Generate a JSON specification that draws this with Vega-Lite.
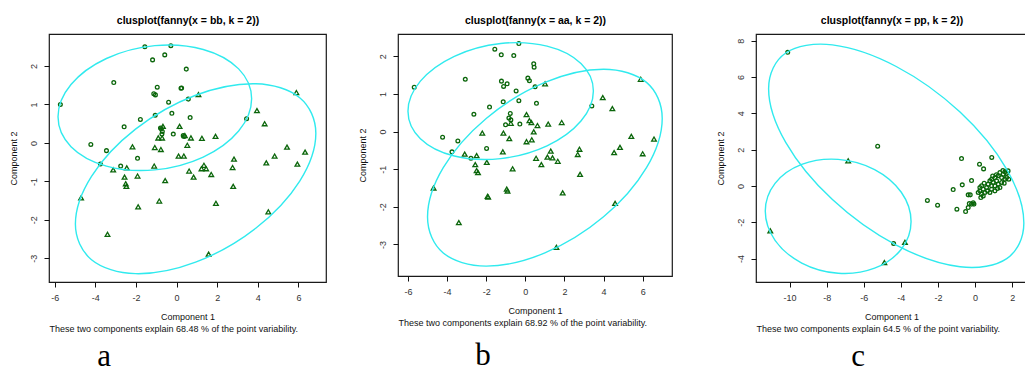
{
  "$schema": "https://vega.github.io/schema/vega-lite/v6.json",
  "padding": {"left": 8, "top": 14, "right": 0, "bottom": 0},
  "background": "white",
  "spacing": 30,
  "config": {
    "view": {"stroke": "#1a1a1a", "strokeWidth": 1.2},
    "axis": {
      "grid": false,
      "domain": false,
      "tickColor": "#111",
      "tickSize": 5,
      "tickWidth": 1,
      "labelFont": "Liberation Sans",
      "labelFontSize": 9,
      "labelColor": "#333",
      "labelPadding": 6,
      "titleFont": "Liberation Sans",
      "titleFontSize": 9,
      "titleFontWeight": "normal",
      "titleColor": "#111"
    },
    "point": {"filled": false, "opacity": 1, "strokeWidth": 1.3, "color": "#0b660b"},
    "line": {"stroke": "#30eaee", "strokeWidth": 1.4, "interpolate": "cardinal-closed"}
  },
  "datasets": {
    "pa": [
      {"x": -5.72, "y": 1.0, "cl": 1}, {"x": -1.56, "y": 2.5, "cl": 1}, {"x": -0.28, "y": 2.53, "cl": 1},
      {"x": -0.58, "y": 2.29, "cl": 1}, {"x": -1.18, "y": 2.16, "cl": 1}, {"x": 0.48, "y": 1.92, "cl": 1},
      {"x": -3.09, "y": 1.57, "cl": 1}, {"x": -0.95, "y": 1.45, "cl": 1}, {"x": 0.25, "y": 1.43, "cl": 1},
      {"x": 0.22, "y": 1.42, "cl": 1}, {"x": -1.12, "y": 1.28, "cl": 1}, {"x": -1.04, "y": 1.25, "cl": 1},
      {"x": 0.58, "y": 1.14, "cl": 1}, {"x": -0.39, "y": 1.06, "cl": 1}, {"x": -1.05, "y": 0.72, "cl": 1},
      {"x": -0.23, "y": 0.77, "cl": 1}, {"x": 0.67, "y": 0.66, "cl": 1}, {"x": -1.78, "y": 0.61, "cl": 1},
      {"x": -2.58, "y": 0.42, "cl": 1}, {"x": 3.45, "y": 0.63, "cl": 1}, {"x": -0.79, "y": 0.39, "cl": 1},
      {"x": -0.75, "y": 0.37, "cl": 1}, {"x": -0.72, "y": 0.23, "cl": 1}, {"x": -0.7, "y": 0.3, "cl": 1},
      {"x": -0.16, "y": 0.23, "cl": 1}, {"x": 0.33, "y": 0.19, "cl": 1}, {"x": 0.38, "y": 0.17, "cl": 1},
      {"x": -4.22, "y": -0.04, "cl": 1}, {"x": -3.45, "y": -0.2, "cl": 1}, {"x": -1.92, "y": -0.4, "cl": 1},
      {"x": -3.75, "y": -0.55, "cl": 1}, {"x": -2.75, "y": -0.6, "cl": 1},
      {"x": 1.08, "y": 1.26, "cl": 2}, {"x": 5.9, "y": 1.31, "cl": 2}, {"x": 3.96, "y": 0.84, "cl": 2},
      {"x": 4.34, "y": 0.5, "cl": 2}, {"x": -0.67, "y": 0.43, "cl": 2}, {"x": 0.15, "y": 0.43, "cl": 2},
      {"x": 0.41, "y": 0.19, "cl": 2}, {"x": 0.71, "y": 0.13, "cl": 2}, {"x": 1.25, "y": 0.12, "cl": 2},
      {"x": 1.92, "y": 0.17, "cl": 2}, {"x": -0.9, "y": 0.13, "cl": 2}, {"x": -0.71, "y": 0.13, "cl": 2},
      {"x": -2.17, "y": -0.1, "cl": 2}, {"x": -1.07, "y": -0.12, "cl": 2}, {"x": -0.77, "y": -0.17, "cl": 2},
      {"x": 0.53, "y": -0.06, "cl": 2}, {"x": 0.1, "y": -0.34, "cl": 2}, {"x": 0.36, "y": -0.34, "cl": 2},
      {"x": 5.44, "y": -0.11, "cl": 2}, {"x": 6.33, "y": -0.24, "cl": 2}, {"x": 4.83, "y": -0.34, "cl": 2},
      {"x": 2.83, "y": -0.42, "cl": 2}, {"x": 4.42, "y": -0.52, "cl": 2}, {"x": 5.95, "y": -0.55, "cl": 2},
      {"x": 1.35, "y": -0.58, "cl": 2}, {"x": 1.23, "y": -0.67, "cl": 2}, {"x": 1.46, "y": -0.67, "cl": 2},
      {"x": 2.76, "y": -0.64, "cl": 2}, {"x": -1.1, "y": -0.6, "cl": 2}, {"x": -2.45, "y": -0.65, "cl": 2},
      {"x": -3.12, "y": -0.7, "cl": 2}, {"x": 0.62, "y": -0.73, "cl": 2}, {"x": 0.84, "y": -0.89, "cl": 2},
      {"x": 1.71, "y": -0.82, "cl": 2}, {"x": -2.56, "y": -0.89, "cl": 2}, {"x": -1.92, "y": -0.86, "cl": 2},
      {"x": -0.56, "y": -0.98, "cl": 2}, {"x": -2.5, "y": -1.06, "cl": 2}, {"x": -2.47, "y": -1.13, "cl": 2},
      {"x": 2.79, "y": -1.13, "cl": 2}, {"x": -4.7, "y": -1.43, "cl": 2}, {"x": -0.85, "y": -1.51, "cl": 2},
      {"x": 1.94, "y": -1.57, "cl": 2}, {"x": -1.89, "y": -1.66, "cl": 2}, {"x": 4.52, "y": -1.79, "cl": 2},
      {"x": -3.4, "y": -2.375, "cl": 2}, {"x": 1.58, "y": -2.89, "cl": 2}
    ],
    "ea": [
      {"e": 1, "i": 0, "x": 3.698, "y": 1.15}, {"e": 1, "i": 1, "x": 3.059, "y": 1.926},
      {"e": 1, "i": 2, "x": 1.315, "y": 2.431}, {"e": 1, "i": 3, "x": -1.069, "y": 2.53},
      {"e": 1, "i": 4, "x": -3.453, "y": 2.196}, {"e": 1, "i": 5, "x": -5.197, "y": 1.519},
      {"e": 1, "i": 6, "x": -5.836, "y": 0.68}, {"e": 1, "i": 7, "x": -5.197, "y": -0.096},
      {"e": 1, "i": 8, "x": -3.453, "y": -0.601}, {"e": 1, "i": 9, "x": -1.069, "y": -0.7},
      {"e": 1, "i": 10, "x": 1.315, "y": -0.366}, {"e": 1, "i": 11, "x": 3.059, "y": 0.311},
      {"e": 2, "i": 0, "x": 6.86, "y": 0.25}, {"e": 2, "i": 1, "x": 6.067, "y": 1.177},
      {"e": 2, "i": 2, "x": 3.9, "y": 1.539}, {"e": 2, "i": 3, "x": 0.94, "y": 1.24},
      {"e": 2, "i": 4, "x": -2.02, "y": 0.359}, {"e": 2, "i": 5, "x": -4.187, "y": -0.867},
      {"e": 2, "i": 6, "x": -4.98, "y": -2.11}, {"e": 2, "i": 7, "x": -4.187, "y": -3.037},
      {"e": 2, "i": 8, "x": -2.02, "y": -3.399}, {"e": 2, "i": 9, "x": 0.94, "y": -3.1},
      {"e": 2, "i": 10, "x": 3.9, "y": -2.219}, {"e": 2, "i": 11, "x": 6.067, "y": -0.993}
    ],
    "pb": [
      {"x": -5.68, "y": 1.18, "cl": 1}, {"x": -1.56, "y": 2.19, "cl": 1}, {"x": -0.33, "y": 2.34, "cl": 1},
      {"x": -1.23, "y": 2.04, "cl": 1}, {"x": -0.59, "y": 2.02, "cl": 1}, {"x": 0.43, "y": 1.8, "cl": 1},
      {"x": 0.45, "y": 1.71, "cl": 1}, {"x": -3.07, "y": 1.39, "cl": 1}, {"x": -1.22, "y": 1.34, "cl": 1},
      {"x": -0.93, "y": 1.27, "cl": 1}, {"x": -1.11, "y": 1.2, "cl": 1}, {"x": 0.13, "y": 1.42, "cl": 1},
      {"x": 0.21, "y": 1.35, "cl": 1}, {"x": 0.5, "y": 1.19, "cl": 1}, {"x": -0.47, "y": 1.08, "cl": 1},
      {"x": -0.33, "y": 0.82, "cl": 1}, {"x": -1.13, "y": 0.79, "cl": 1}, {"x": 0.57, "y": 0.75, "cl": 1},
      {"x": -1.83, "y": 0.65, "cl": 1}, {"x": -2.63, "y": 0.46, "cl": 1}, {"x": 3.4, "y": 0.68, "cl": 1},
      {"x": -0.77, "y": 0.48, "cl": 1}, {"x": -0.84, "y": 0.36, "cl": 1}, {"x": -0.74, "y": 0.31, "cl": 1},
      {"x": -1.01, "y": 0.18, "cl": 1}, {"x": -0.28, "y": 0.2, "cl": 1}, {"x": -4.23, "y": -0.15, "cl": 1},
      {"x": -3.45, "y": -0.25, "cl": 1}, {"x": -3.75, "y": -0.54, "cl": 1}, {"x": -1.98, "y": -0.45, "cl": 1},
      {"x": -2.78, "y": -0.71, "cl": 1},
      {"x": 1.01, "y": 1.27, "cl": 2}, {"x": 5.9, "y": 1.39, "cl": 2}, {"x": 3.96, "y": 0.9, "cl": 2},
      {"x": 4.45, "y": 0.61, "cl": 2}, {"x": 0.06, "y": 0.45, "cl": 2}, {"x": 0.21, "y": 0.29, "cl": 2},
      {"x": 0.31, "y": 0.24, "cl": 2}, {"x": 0.62, "y": 0.16, "cl": 2}, {"x": 1.17, "y": 0.2, "cl": 2},
      {"x": 1.86, "y": 0.24, "cl": 2}, {"x": -0.74, "y": 0.22, "cl": 2}, {"x": -2.2, "y": -0.04, "cl": 2},
      {"x": -1.12, "y": -0.04, "cl": 2}, {"x": -0.82, "y": -0.19, "cl": 2}, {"x": 0.43, "y": -0.01, "cl": 2},
      {"x": 0.06, "y": -0.27, "cl": 2}, {"x": 0.33, "y": -0.22, "cl": 2}, {"x": 5.42, "y": -0.13, "cl": 2},
      {"x": 6.58, "y": -0.2, "cl": 2}, {"x": 4.84, "y": -0.42, "cl": 2}, {"x": 2.77, "y": -0.47, "cl": 2},
      {"x": 4.54, "y": -0.56, "cl": 2}, {"x": 6.0, "y": -0.59, "cl": 2}, {"x": 1.3, "y": -0.52, "cl": 2},
      {"x": 2.68, "y": -0.61, "cl": 2}, {"x": 1.13, "y": -0.68, "cl": 2}, {"x": 1.39, "y": -0.7, "cl": 2},
      {"x": 1.66, "y": -0.79, "cl": 2}, {"x": -1.15, "y": -0.54, "cl": 2}, {"x": -2.49, "y": -0.64, "cl": 2},
      {"x": -3.1, "y": -0.6, "cl": 2}, {"x": 0.55, "y": -0.71, "cl": 2}, {"x": 0.82, "y": -0.88, "cl": 2},
      {"x": -1.97, "y": -0.82, "cl": 2}, {"x": -2.56, "y": -0.88, "cl": 2}, {"x": -2.49, "y": -1.04, "cl": 2},
      {"x": -2.42, "y": -1.09, "cl": 2}, {"x": -0.65, "y": -0.99, "cl": 2}, {"x": 2.8, "y": -1.14, "cl": 2},
      {"x": -4.69, "y": -1.5, "cl": 2}, {"x": -0.91, "y": -1.58, "cl": 2}, {"x": -0.95, "y": -1.53, "cl": 2},
      {"x": 1.91, "y": -1.63, "cl": 2}, {"x": -1.93, "y": -1.72, "cl": 2}, {"x": -1.9, "y": -1.74, "cl": 2},
      {"x": 4.59, "y": -1.91, "cl": 2}, {"x": -3.4, "y": -2.42, "cl": 2}, {"x": 1.59, "y": -3.08, "cl": 2}
    ],
    "eb": [
      {"e": 1, "i": 0, "x": 3.48, "y": 1.08}, {"e": 1, "i": 1, "x": 2.845, "y": 1.809},
      {"e": 1, "i": 2, "x": 1.11, "y": 2.27}, {"e": 1, "i": 3, "x": -1.26, "y": 2.34},
      {"e": 1, "i": 4, "x": -3.63, "y": 2.0}, {"e": 1, "i": 5, "x": -5.365, "y": 1.341},
      {"e": 1, "i": 6, "x": -6.0, "y": 0.54}, {"e": 1, "i": 7, "x": -5.365, "y": -0.189},
      {"e": 1, "i": 8, "x": -3.63, "y": -0.65}, {"e": 1, "i": 9, "x": -1.26, "y": -0.72},
      {"e": 1, "i": 10, "x": 1.11, "y": -0.38}, {"e": 1, "i": 11, "x": 2.845, "y": 0.279},
      {"e": 2, "i": 0, "x": 7.0, "y": 0.35}, {"e": 2, "i": 1, "x": 6.196, "y": 1.307},
      {"e": 2, "i": 2, "x": 4.0, "y": 1.657}, {"e": 2, "i": 3, "x": 1.0, "y": 1.306},
      {"e": 2, "i": 4, "x": -2.0, "y": 0.347}, {"e": 2, "i": 5, "x": -4.196, "y": -0.961},
      {"e": 2, "i": 6, "x": -5.0, "y": -2.27}, {"e": 2, "i": 7, "x": -4.196, "y": -3.227},
      {"e": 2, "i": 8, "x": -2.0, "y": -3.577}, {"e": 2, "i": 9, "x": 1.0, "y": -3.226},
      {"e": 2, "i": 10, "x": 4.0, "y": -2.267}, {"e": 2, "i": 11, "x": 6.196, "y": -0.959}
    ],
    "pc": [
      {"x": -10.1, "y": 7.36, "cl": 1}, {"x": -5.25, "y": 2.19, "cl": 1}, {"x": -0.73, "y": 1.51, "cl": 1},
      {"x": 0.9, "y": 1.57, "cl": 1}, {"x": 0.24, "y": 1.2, "cl": 1}, {"x": 0.46, "y": 0.94, "cl": 1},
      {"x": -0.19, "y": 0.3, "cl": 1}, {"x": -0.69, "y": 0.06, "cl": 1}, {"x": -1.18, "y": -0.2, "cl": 1},
      {"x": -2.57, "y": -0.8, "cl": 1}, {"x": -2.02, "y": -1.06, "cl": 1}, {"x": -0.98, "y": -1.28, "cl": 1},
      {"x": -0.51, "y": -1.41, "cl": 1}, {"x": -0.31, "y": -0.97, "cl": 1}, {"x": -0.06, "y": -1.0, "cl": 1},
      {"x": -0.37, "y": -0.49, "cl": 1}, {"x": -0.26, "y": -0.49, "cl": 1}, {"x": -4.39, "y": -3.17, "cl": 1},
      {"x": 1.78, "y": 0.83, "cl": 1}, {"x": 1.61, "y": 0.78, "cl": 1}, {"x": 1.52, "y": 0.65, "cl": 1},
      {"x": 1.34, "y": 0.74, "cl": 1}, {"x": 1.25, "y": 0.56, "cl": 1}, {"x": 1.43, "y": 0.46, "cl": 1},
      {"x": 1.7, "y": 0.46, "cl": 1}, {"x": 1.07, "y": 0.46, "cl": 1}, {"x": 0.89, "y": 0.37, "cl": 1},
      {"x": 0.8, "y": 0.28, "cl": 1}, {"x": 0.98, "y": 0.19, "cl": 1}, {"x": 1.16, "y": 0.28, "cl": 1},
      {"x": 1.25, "y": 0.1, "cl": 1}, {"x": 1.43, "y": 0.19, "cl": 1}, {"x": 1.07, "y": 0.01, "cl": 1},
      {"x": 0.89, "y": 0.01, "cl": 1}, {"x": 0.71, "y": 0.1, "cl": 1}, {"x": 0.62, "y": -0.09, "cl": 1},
      {"x": 0.49, "y": 0.15, "cl": 1}, {"x": 0.35, "y": 0.01, "cl": 1}, {"x": 0.26, "y": -0.09, "cl": 1},
      {"x": 0.44, "y": -0.18, "cl": 1}, {"x": 0.26, "y": -0.27, "cl": 1}, {"x": 0.53, "y": -0.36, "cl": 1},
      {"x": 0.35, "y": -0.45, "cl": 1}, {"x": 0.67, "y": -0.27, "cl": 1}, {"x": 0.89, "y": -0.18, "cl": 1},
      {"x": 1.07, "y": -0.27, "cl": 1}, {"x": 1.34, "y": -0.09, "cl": 1}, {"x": 1.61, "y": 0.37, "cl": 1},
      {"x": 1.82, "y": 0.37, "cl": 1}, {"x": 1.57, "y": 0.15, "cl": 1}, {"x": 1.21, "y": -0.14, "cl": 1},
      {"x": 0.8, "y": -0.36, "cl": 1}, {"x": 0.17, "y": -0.36, "cl": 1}, {"x": 0.31, "y": -0.64, "cl": 1},
      {"x": 0.44, "y": -0.55, "cl": 1}, {"x": -0.19, "y": -1.0, "cl": 1}, {"x": -0.1, "y": -0.92, "cl": 1},
      {"x": -0.37, "y": -1.19, "cl": 1}, {"x": 1.15, "y": 0.62, "cl": 1}, {"x": 0.95, "y": 0.55, "cl": 1},
      {"x": 1.5, "y": 0.85, "cl": 1}, {"x": 1.7, "y": 0.7, "cl": 1},
      {"x": -6.84, "y": 1.38, "cl": 2}, {"x": -11.04, "y": -2.47, "cl": 2}, {"x": -3.78, "y": -3.1, "cl": 2},
      {"x": -4.89, "y": -4.22, "cl": 2}
    ],
    "ec": [
      {"e": 1, "i": 0, "x": 2.63, "y": -2.04}, {"e": 1, "i": 1, "x": 1.708, "y": 0.916},
      {"e": 1, "i": 2, "x": -0.81, "y": 4.071}, {"e": 1, "i": 3, "x": -4.25, "y": 6.58},
      {"e": 1, "i": 4, "x": -7.69, "y": 7.771}, {"e": 1, "i": 5, "x": -10.208, "y": 7.324},
      {"e": 1, "i": 6, "x": -11.13, "y": 5.36}, {"e": 1, "i": 7, "x": -10.208, "y": 2.404},
      {"e": 1, "i": 8, "x": -7.69, "y": -0.751}, {"e": 1, "i": 9, "x": -4.25, "y": -3.26},
      {"e": 1, "i": 10, "x": -0.81, "y": -4.451}, {"e": 1, "i": 11, "x": 1.708, "y": -4.004},
      {"e": 2, "i": 0, "x": -3.45, "y": -1.955}, {"e": 2, "i": 1, "x": -3.977, "y": -0.348},
      {"e": 2, "i": 2, "x": -5.415, "y": 0.904}, {"e": 2, "i": 3, "x": -7.38, "y": 1.467},
      {"e": 2, "i": 4, "x": -9.345, "y": 1.19}, {"e": 2, "i": 5, "x": -10.783, "y": 0.146},
      {"e": 2, "i": 6, "x": -11.31, "y": -1.385}, {"e": 2, "i": 7, "x": -10.783, "y": -2.992},
      {"e": 2, "i": 8, "x": -9.345, "y": -4.244}, {"e": 2, "i": 9, "x": -7.38, "y": -4.807},
      {"e": 2, "i": 10, "x": -5.415, "y": -4.53}, {"e": 2, "i": 11, "x": -3.977, "y": -3.486}
    ]
  },
  "hconcat": [
    {
      "width": 277,
      "height": 248,
      "title": {"text": "a", "orient": "bottom", "anchor": "start", "align": "center", "dx": 95, "offset": 9, "font": "Liberation Serif", "fontSize": 31, "fontWeight": "normal", "color": "black"},
      "layer": [
        {
          "data": {"name": "pa"},
          "transform": [{"filter": "datum.cl == 1"}],
          "mark": {"type": "point", "shape": "circle", "size": 14},
          "encoding": {
            "x": {"field": "x", "type": "quantitative", "scale": {"domain": [-6.28, 7.36], "nice": false, "zero": false},
                  "axis": {"orient": "bottom", "values": [-6, -4, -2, 0, 2, 4, 6], "labelExpr": "'' + datum.value", "title": "Component 1", "titlePadding": 10}},
            "y": {"field": "y", "type": "quantitative", "scale": {"domain": [-3.616, 2.833], "nice": false, "zero": false},
                  "axis": {"orient": "left", "values": [-3, -2, -1, 0, 1, 2], "labelExpr": "'' + datum.value", "labelAngle": -90, "title": "Component 2", "titlePadding": 11}}
          }
        },
        {
          "data": {"name": "pa"},
          "transform": [{"filter": "datum.cl == 2"}],
          "mark": {"type": "point", "shape": "triangle-up", "size": 22},
          "encoding": {
            "x": {"field": "x", "type": "quantitative", "scale": {"domain": [-6.28, 7.36], "nice": false, "zero": false},
                  "axis": {"orient": "top", "ticks": false, "labels": false, "title": "clusplot(fanny(x = bb, k = 2))", "titleFontWeight": "bold", "titleFontSize": 10.5, "titleColor": "black", "titlePadding": 9}},
            "y": {"field": "y", "type": "quantitative", "scale": {"domain": [-3.616, 2.833], "nice": false, "zero": false}, "axis": null}
          }
        },
        {
          "data": {"name": "ea"},
          "mark": {"type": "line"},
          "encoding": {
            "x": {"field": "x", "type": "quantitative", "scale": {"domain": [-6.28, 7.36], "nice": false, "zero": false},
                  "axis": {"orient": "bottom", "ticks": false, "labels": false, "title": "These two components explain 68.48 % of the point variability.", "titleAnchor": "start", "titleAlign": "left", "titlePadding": 42}},
            "y": {"field": "y", "type": "quantitative", "scale": {"domain": [-3.616, 2.833], "nice": false, "zero": false}, "axis": null},
            "detail": {"field": "e"},
            "order": {"field": "i"}
          }
        }
      ],
      "resolve": {"axis": {"x": "independent", "y": "independent"}}
    },
    {
      "spacing": 42,
      "hconcat": [
        {
          "width": 274,
          "height": 242,
          "title": {"text": "b", "orient": "bottom", "anchor": "start", "align": "center", "dx": 125, "offset": 14, "font": "Liberation Serif", "fontSize": 31, "fontWeight": "normal", "color": "black"},
          "layer": [
            {
              "data": {"name": "pb"},
              "transform": [{"filter": "datum.cl == 1"}],
              "mark": {"type": "point", "shape": "circle", "size": 14},
              "encoding": {
                "x": {"field": "x", "type": "quantitative", "scale": {"domain": [-6.51, 7.5], "nice": false, "zero": false},
                      "axis": {"orient": "bottom", "values": [-6, -4, -2, 0, 2, 4, 6], "labelExpr": "'' + datum.value", "title": "Component 1", "titlePadding": 10}},
                "y": {"field": "y", "type": "quantitative", "scale": {"domain": [-3.84, 2.593], "nice": false, "zero": false},
                      "axis": {"orient": "left", "values": [-3, -2, -1, 0, 1, 2], "labelExpr": "'' + datum.value", "labelAngle": -90, "title": "Component 2", "titlePadding": 11}}
              }
            },
            {
              "data": {"name": "pb"},
              "transform": [{"filter": "datum.cl == 2"}],
              "mark": {"type": "point", "shape": "triangle-up", "size": 22},
              "encoding": {
                "x": {"field": "x", "type": "quantitative", "scale": {"domain": [-6.51, 7.5], "nice": false, "zero": false},
                      "axis": {"orient": "top", "ticks": false, "labels": false, "title": "clusplot(fanny(x = aa, k = 2))", "titleFontWeight": "bold", "titleFontSize": 10.5, "titleColor": "black", "titlePadding": 9}},
                "y": {"field": "y", "type": "quantitative", "scale": {"domain": [-3.84, 2.593], "nice": false, "zero": false}, "axis": null}
              }
            },
            {
              "data": {"name": "eb"},
              "mark": {"type": "line"},
              "encoding": {
                "x": {"field": "x", "type": "quantitative", "scale": {"domain": [-6.51, 7.5], "nice": false, "zero": false},
                      "axis": {"orient": "bottom", "ticks": false, "labels": false, "title": "These two components explain 68.92 % of the point variability.", "titleAnchor": "start", "titleAlign": "left", "titlePadding": 42}},
                "y": {"field": "y", "type": "quantitative", "scale": {"domain": [-3.84, 2.593], "nice": false, "zero": false}, "axis": null},
                "detail": {"field": "e"},
                "order": {"field": "i"}
              }
            }
          ],
          "resolve": {"axis": {"x": "independent", "y": "independent"}}
        },
        {
          "width": 271,
          "height": 248,
          "title": {"text": "c", "orient": "bottom", "anchor": "start", "align": "center", "dx": 142, "offset": 9, "font": "Liberation Serif", "fontSize": 31, "fontWeight": "normal", "color": "black"},
          "layer": [
            {
              "data": {"name": "pc"},
              "transform": [{"filter": "datum.cl == 1"}],
              "mark": {"type": "point", "shape": "circle", "size": 14},
              "encoding": {
                "x": {"field": "x", "type": "quantitative", "scale": {"domain": [-11.81, 2.8], "nice": false, "zero": false},
                      "axis": {"orient": "bottom", "values": [-10, -8, -6, -4, -2, 0, 2], "labelExpr": "'' + datum.value", "title": "Component 1", "titlePadding": 10}},
                "y": {"field": "y", "type": "quantitative", "scale": {"domain": [-5.29, 8.37], "nice": false, "zero": false},
                      "axis": {"orient": "left", "values": [-4, -2, 0, 2, 4, 6, 8], "labelExpr": "'' + datum.value", "labelAngle": -90, "title": "Component 2", "titlePadding": 11}}
              }
            },
            {
              "data": {"name": "pc"},
              "transform": [{"filter": "datum.cl == 2"}],
              "mark": {"type": "point", "shape": "triangle-up", "size": 22},
              "encoding": {
                "x": {"field": "x", "type": "quantitative", "scale": {"domain": [-11.81, 2.8], "nice": false, "zero": false},
                      "axis": {"orient": "top", "ticks": false, "labels": false, "title": "clusplot(fanny(x = pp, k = 2))", "titleFontWeight": "bold", "titleFontSize": 10.5, "titleColor": "black", "titlePadding": 9}},
                "y": {"field": "y", "type": "quantitative", "scale": {"domain": [-5.29, 8.37], "nice": false, "zero": false}, "axis": null}
              }
            },
            {
              "data": {"name": "ec"},
              "mark": {"type": "line"},
              "encoding": {
                "x": {"field": "x", "type": "quantitative", "scale": {"domain": [-11.81, 2.8], "nice": false, "zero": false},
                      "axis": {"orient": "bottom", "ticks": false, "labels": false, "title": "These two components explain 64.5 % of the point variability.", "titleAnchor": "start", "titleAlign": "left", "titlePadding": 42}},
                "y": {"field": "y", "type": "quantitative", "scale": {"domain": [-5.29, 8.37], "nice": false, "zero": false}, "axis": null},
                "detail": {"field": "e"},
                "order": {"field": "i"}
              }
            }
          ],
          "resolve": {"axis": {"x": "independent", "y": "independent"}}
        }
      ]
    }
  ]
}
